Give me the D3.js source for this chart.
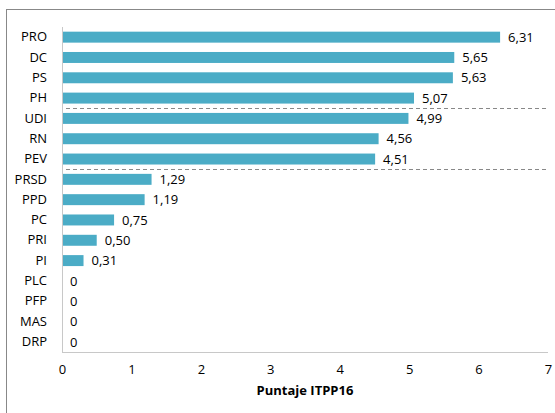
<!DOCTYPE html>
<html>
<head>
<meta charset="utf-8">
<script src="https://cdn.jsdelivr.net/npm/d3@7"></script>
<style>
html,body{margin:0;padding:0;background:#fff;}
svg{display:block;}
text{font-family:"Open Sans","Noto Sans",sans-serif;fill:#000;}
</style>
</head>
<body>
<svg id="chart" width="555" height="413"></svg>
<script>
const categories = ["PRO","DC","PS","PH","UDI","RN","PEV","PRSD","PPD","PC","PRI","PI","PLC","PFP","MAS","DRP"];
const values = [6.31,5.65,5.63,5.07,4.99,4.56,4.51,1.29,1.19,0.75,0.50,0.31,0,0,0,0];
const valueLabels = ["6,31","5,65","5,63","5,07","4,99","4,56","4,51","1,29","1,19","0,75","0,50","0,31","0","0","0","0"];
const xTicks = [0,1,2,3,4,5,6,7];
const dividersAfter = ["PH","PEV"];
const axisTitle = "Puntaje ITPP16";

const svg = d3.select("#chart");
svg.append("rect").attr("x",6.5).attr("y",9.5).attr("width",600).attr("height",500)
  .attr("fill","none").attr("stroke","#888").attr("stroke-width",1);

const pL = 62, pR = 548, pT = 27, pB = 352;
const fs = "13px";
const x = d3.scaleLinear().domain([0,7]).range([pL,pR]);
const y = d3.scaleBand().domain(categories).range([pT,pB]).paddingInner(0.46).paddingOuter(0.23);

dividersAfter.forEach(c=>{
  const i = categories.indexOf(c);
  const yy = pT + (i+1)*(pB-pT)/categories.length;
  svg.append("line").attr("x1",66).attr("x2",pR).attr("y1",Math.round(yy)+0.5).attr("y2",Math.round(yy)+0.5)
    .attr("stroke","#888").attr("stroke-width",1).attr("stroke-dasharray","4,3");
});

svg.selectAll("rect.bar").data(categories).enter().append("rect").attr("class","bar")
  .attr("x",x(0)).attr("y",d=>y(d)).attr("width",(d,i)=>x(values[i])-x(0)).attr("height",y.bandwidth())
  .attr("fill","#4BACC6");

svg.selectAll("text.val").data(categories).enter().append("text").attr("class","val")
  .attr("x",(d,i)=>x(values[i])+8).attr("y",d=>y(d)+y.bandwidth()/2).attr("dy","0.36em")
  .attr("font-size",fs).text((d,i)=>valueLabels[i]);

svg.append("line").attr("x1",pL+0.5).attr("x2",pL+0.5).attr("y1",pT).attr("y2",pB).attr("stroke","#c8c8c8");
svg.append("line").attr("x1",pL).attr("x2",pR).attr("y1",pB+0.5).attr("y2",pB+0.5).attr("stroke","#c8c8c8");

const yAxis = d3.axisLeft(y).tickSize(0).tickPadding(15);
const gy = svg.append("g").attr("transform",`translate(${pL},0)`).call(yAxis);
gy.select(".domain").remove();
gy.selectAll("text").attr("font-size",fs).attr("font-family",'"Open Sans","Noto Sans",sans-serif').attr("fill","#000");

const xAxis = d3.axisBottom(x).tickValues(xTicks).tickSize(0).tickPadding(13).tickFormat(d3.format("d"));
const gx = svg.append("g").attr("transform",`translate(0,${pB})`).call(xAxis);
gx.select(".domain").remove();
gx.selectAll("text").attr("font-size",fs).attr("font-family",'"Open Sans","Noto Sans",sans-serif').attr("fill","#000");

svg.append("text").attr("x",305).attr("y",395).attr("text-anchor","middle")
  .attr("font-size",fs).attr("font-weight","bold").text(axisTitle);
</script>
</body>
</html>
